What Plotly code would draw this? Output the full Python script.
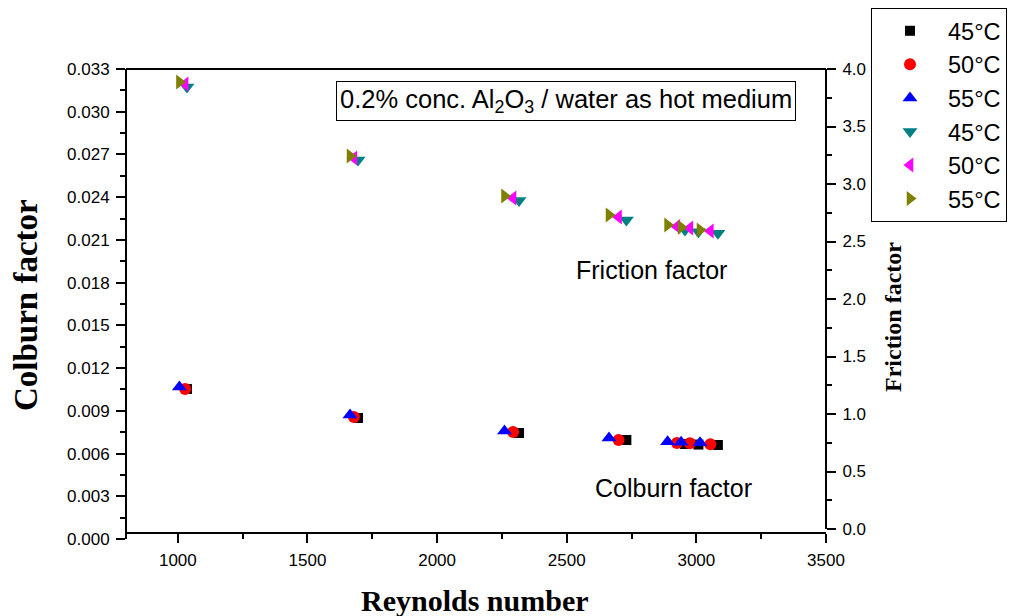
import plotly.graph_objects as go

# Reynolds numbers for each hot-water inlet temperature
re_45 = [1035, 1695, 2316, 2730, 2956, 3008, 3083]
re_50 = [1028, 1679, 2293, 2700, 2925, 2975, 3054]
re_55 = [1006, 1664, 2260, 2663, 2889, 2941, 3014]

# Colburn factor (left axis)
j_45 = [0.01053, 0.00850, 0.00744, 0.00695, 0.00667, 0.00663, 0.00660]
j_50 = [0.01053, 0.00857, 0.00751, 0.00695, 0.00674, 0.00672, 0.00665]
j_55 = [0.01067, 0.00871, 0.00758, 0.00709, 0.00683, 0.00679, 0.00676]

# Friction factor (right axis)
f_45 = [3.843, 3.209, 2.857, 2.687, 2.600, 2.585, 2.571]
f_50 = [3.870, 3.226, 2.878, 2.713, 2.630, 2.617, 2.591]
f_55 = [3.887, 3.243, 2.896, 2.730, 2.643, 2.623, 2.600]

labels = ["45°C", "50°C", "55°C"]

SANS = "Arial, Liberation Sans, sans-serif"
SERIF = "Times New Roman, Liberation Serif, serif"

fig = go.Figure()

colburn = [
    (re_45, j_45, "square", "#000000", 10),
    (re_50, j_50, "circle", "#ff0000", 12),
    (re_55, j_55, "triangle-up", "#0000ff", 13),
]
friction = [
    (re_45, f_45, "triangle-down", "#008080", 13),
    (re_50, f_50, "triangle-left", "#ff00ff", 13),
    (re_55, f_55, "triangle-right", "#808000", 13),
]

for (x, y, sym, col, size), lab in zip(colburn, labels):
    fig.add_trace(go.Scatter(
        x=x, y=y, mode="markers", name=lab, xaxis="x", yaxis="y",
        marker=dict(symbol=sym, color=col, size=size, line=dict(width=0)),
    ))
for (x, y, sym, col, size), lab in zip(friction, labels):
    fig.add_trace(go.Scatter(
        x=x, y=y, mode="markers", name=lab, xaxis="x", yaxis="y2",
        marker=dict(symbol=sym, color=col, size=size, line=dict(width=0)),
    ))

W, H = 1012, 616
L, R, T, B = 126, 826, 69, 539
ph = B - T

axis_common = dict(
    showgrid=False, zeroline=False, showline=True, linecolor="black",
    linewidth=2, ticks="outside", ticklen=9, tickwidth=2,
    tickcolor="black", tickfont=dict(family=SANS, size=17, color="black"),
    ticklabelstandoff=3,
)

fig.update_layout(
    width=W, height=H,
    margin=dict(l=L, r=W - R, t=T, b=H - B, pad=0, autoexpand=False),
    paper_bgcolor="white", plot_bgcolor="rgba(0,0,0,0)",
    showlegend=True,
    legend=dict(
        x=(871 - L) / (R - L), y=(B - 8) / ph, xanchor="left", yanchor="top",
        bordercolor="black", borderwidth=1, bgcolor="white",
        font=dict(family=SANS, size=23.5, color="black"),
        traceorder="normal", itemwidth=66,
    ),
    xaxis=dict(
        range=[800, 3500], tick0=1000, dtick=500,
        anchor="free", position=(B - 533) / ph,
        minor=dict(dtick=250, ticks="outside", ticklen=5, tickwidth=2, tickcolor="black"),
        **axis_common,
    ),
    yaxis=dict(
        range=[0, 0.033], tick0=0, dtick=0.003, tickformat=".3f",
        domain=[0, 1], anchor="free", position=0,
        minor=dict(dtick=0.0015, ticks="outside", ticklen=5, tickwidth=2, tickcolor="black"),
        **axis_common,
    ),
    yaxis2=dict(
        range=[0, 4.0], tick0=0, dtick=0.5, tickformat=".1f",
        domain=[(B - 529) / ph, 1], anchor="free", position=1, side="right",
        minor=dict(dtick=0.25, ticks="outside", ticklen=5, tickwidth=2, tickcolor="black"),
        **axis_common,
    ),
)

# top frame line
fig.add_shape(type="line", xref="paper", yref="paper", x0=0, x1=1, y0=1, y1=1,
              line=dict(color="black", width=2))

def px_x(px):
    return (px - L) / (R - L)

def px_y(py):
    return (B - py) / ph

def note(text, cx, cy, size, family=SANS, angle=0, **kw):
    fig.add_annotation(
        text=text, xref="paper", yref="paper", x=px_x(cx), y=px_y(cy),
        xanchor="center", yanchor="middle", textangle=angle, showarrow=False,
        font=dict(family=family, size=size, color="black"), **kw,
    )

note("0.2% conc. Al<sub>2</sub>O<sub>3</sub> / water as hot medium", 566, 101, 25.5,
     bordercolor="black", borderwidth=1, borderpad=3, bgcolor="white")
note("Friction factor", 651, 270, 25)
note("Colburn factor", 673, 488, 25)

# axis titles
note("<b>Colburn factor</b>", 26, 305, 33, family=SERIF, angle=-90)
note("<b>Friction factor</b>", 893, 317, 24, family=SERIF, angle=-90)
note("<b>Reynolds number</b>", 475, 600, 30, family=SERIF)

fig.write_html("out.html")
